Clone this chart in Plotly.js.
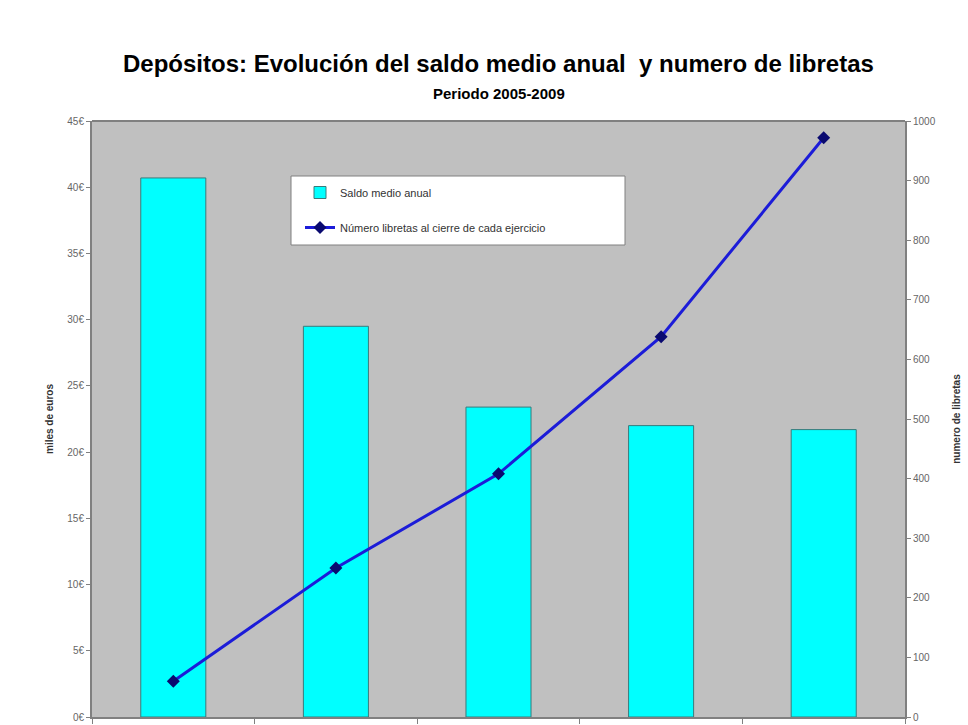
<!DOCTYPE html>
<html>
<head>
<meta charset="utf-8">
<script src="https://cdn.plot.ly/plotly-3.0.1.min.js"></script>
<style>html,body{margin:0;padding:0;background:#fff;}#chart{width:968px;height:725px;}</style>
</head>
<body>
<div id="chart"></div>
<script>
const years = ['2005', '2006', '2007', '2008', '2009'];
const saldoMedio = [40.7, 29.5, 23.4, 22.0, 21.7];
const numLibretas = [60, 250, 408, 638, 972];

const traces = [
  {
    type: 'bar', x: years, y: saldoMedio, name: 'Saldo medio anual',
    marker: {color: '#00ffff', line: {color: '#3a7a7a', width: 1}},
    width: 0.4, yaxis: 'y', legendgroup: 'a'
  },
  {
    type: 'scatter', mode: 'lines+markers', x: years, y: numLibretas,
    name: 'Número libretas al cierre de cada ejercicio',
    line: {color: '#1c1cd8', width: 3},
    marker: {symbol: 'diamond', size: 10, color: '#0a0a70'},
    yaxis: 'y2', legendgroup: 'b'
  }
];

const plotL = 92, plotR = 905, plotT = 121, plotB = 717;
const px = v => (v - plotL) / (plotR - plotL);
const py = v => (plotB - v) / (plotB - plotT);

const layout = {
  width: 968, height: 725,
  margin: {l: 92, r: 63, t: 121, b: 8},
  paper_bgcolor: '#ffffff', plot_bgcolor: '#c0c0c0',
  font: {family: 'Liberation Sans, Arial, sans-serif', color: '#000'},
  showlegend: true,
  legend: {
    x: px(300), y: py(178), xanchor: 'left', yanchor: 'top',
    bgcolor: 'rgba(0,0,0,0)', borderwidth: 0,
    font: {size: 11, family: 'Liberation Sans, Arial, sans-serif', color: '#333'},
    traceorder: 'grouped', tracegroupgap: 16
  },
  xaxis: {
    type: 'category', showticklabels: false, showgrid: false, zeroline: false,
    showline: true, linecolor: '#808080', linewidth: 2,
    ticks: 'outside', ticklen: 5, tickcolor: '#808080', tickson: 'boundaries',
    range: [-0.5, 4.5], fixedrange: true
  },
  yaxis: {
    range: [0, 45], dtick: 5, ticksuffix: '€', showgrid: false, zeroline: false,
    showline: true, linecolor: '#808080', linewidth: 2, mirror: false,
    ticks: 'outside', ticklen: 4, tickcolor: '#808080',
    tickfont: {size: 10, color: '#666'},
    title: {text: '<b>miles de euros</b>', font: {size: 10, color: '#333'}, standoff: 12}
  },
  yaxis2: {
    range: [0, 1000], dtick: 100, overlaying: 'y', side: 'right', showgrid: false, zeroline: false,
    showline: true, linecolor: '#808080', linewidth: 2,
    ticks: 'outside', ticklen: 4, tickcolor: '#808080',
    tickfont: {size: 10, color: '#666'},
    title: {text: '<b>numero de libretas</b>', font: {size: 10, color: '#333'}, standoff: 18}
  },
  shapes: [
    {type: 'line', xref: 'paper', yref: 'paper', x0: 0, x1: 1, y0: 1, y1: 1, line: {color: '#808080', width: 2}},
    {type: 'rect', xref: 'paper', yref: 'paper', x0: px(291), x1: px(625), y0: py(176), y1: py(245),
     fillcolor: '#ffffff', line: {color: '#808080', width: 1}, layer: 'above'}
  ],
  annotations: [
    {text: '<b>Depósitos: Evolución del saldo medio anual  y numero de libretas</b>',
     xref: 'paper', yref: 'paper', x: 0.5, y: py(63), xanchor: 'center', yanchor: 'middle',
     showarrow: false, font: {size: 24, color: '#000'}},
    {text: '<b>Periodo 2005-2009</b>',
     xref: 'paper', yref: 'paper', x: 0.5, y: py(94), xanchor: 'center', yanchor: 'middle',
     showarrow: false, font: {size: 15, color: '#000'}}
  ]
};

Plotly.newPlot('chart', traces, layout, {displayModeBar: false, staticPlot: true});
</script>
</body>
</html>
